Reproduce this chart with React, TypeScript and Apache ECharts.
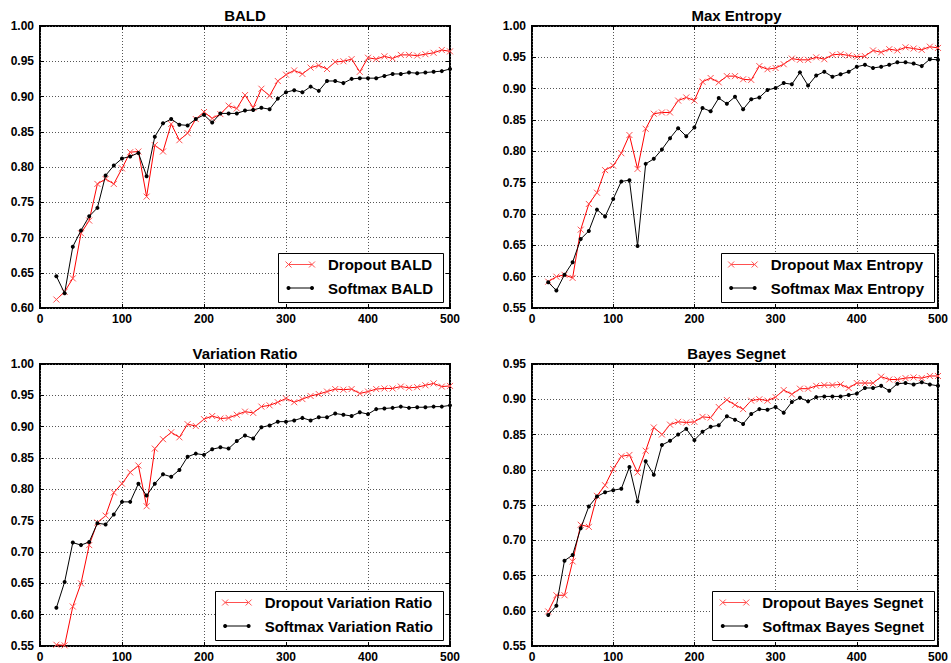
import React, { useEffect, useRef } from "react";
import * as echarts from "echarts";

const xs = [20, 30, 40, 50, 60, 70, 80, 90, 100, 110, 120, 130, 140, 150, 160, 170, 180, 190, 200, 210, 220, 230, 240, 250, 260, 270, 280, 290, 300, 310, 320, 330, 340, 350, 360, 370, 380, 390, 400, 410, 420, 430, 440, 450, 460, 470, 480, 490, 500];

const baldDropout = [0.612, 0.623, 0.642, 0.706, 0.724, 0.776, 0.783, 0.776, 0.798, 0.821, 0.822, 0.758, 0.831, 0.822, 0.861, 0.838, 0.848, 0.868, 0.878, 0.869, 0.875, 0.887, 0.883, 0.902, 0.884, 0.911, 0.901, 0.922, 0.931, 0.937, 0.932, 0.941, 0.944, 0.939, 0.949, 0.950, 0.953, 0.935, 0.955, 0.953, 0.957, 0.954, 0.959, 0.959, 0.958, 0.960, 0.962, 0.966, 0.964];
const baldSoftmax = [0.645, 0.621, 0.687, 0.710, 0.730, 0.742, 0.788, 0.802, 0.812, 0.815, 0.820, 0.787, 0.843, 0.862, 0.868, 0.860, 0.859, 0.868, 0.874, 0.863, 0.876, 0.876, 0.876, 0.880, 0.881, 0.884, 0.882, 0.897, 0.906, 0.909, 0.906, 0.914, 0.908, 0.922, 0.922, 0.919, 0.925, 0.926, 0.926, 0.926, 0.929, 0.932, 0.932, 0.934, 0.933, 0.934, 0.935, 0.936, 0.939];

const maxEntDropout = [0.592, 0.600, 0.603, 0.598, 0.675, 0.716, 0.734, 0.770, 0.777, 0.797, 0.826, 0.772, 0.836, 0.860, 0.862, 0.862, 0.881, 0.886, 0.881, 0.911, 0.917, 0.910, 0.920, 0.920, 0.915, 0.914, 0.936, 0.931, 0.933, 0.939, 0.948, 0.946, 0.946, 0.950, 0.947, 0.954, 0.955, 0.953, 0.951, 0.952, 0.961, 0.958, 0.963, 0.961, 0.966, 0.964, 0.962, 0.967, 0.965];
const maxEntSoftmax = [0.591, 0.578, 0.603, 0.623, 0.660, 0.673, 0.707, 0.696, 0.724, 0.752, 0.754, 0.649, 0.780, 0.788, 0.803, 0.821, 0.837, 0.824, 0.838, 0.869, 0.864, 0.885, 0.876, 0.887, 0.867, 0.883, 0.886, 0.898, 0.901, 0.909, 0.907, 0.926, 0.905, 0.921, 0.927, 0.919, 0.923, 0.927, 0.935, 0.938, 0.933, 0.935, 0.938, 0.942, 0.942, 0.940, 0.936, 0.947, 0.946];

const varRatioDropout = [0.552, 0.551, 0.613, 0.650, 0.711, 0.747, 0.758, 0.795, 0.809, 0.827, 0.838, 0.773, 0.865, 0.880, 0.891, 0.883, 0.904, 0.901, 0.912, 0.917, 0.913, 0.914, 0.919, 0.924, 0.922, 0.932, 0.934, 0.939, 0.945, 0.939, 0.944, 0.949, 0.952, 0.956, 0.960, 0.959, 0.960, 0.953, 0.956, 0.960, 0.961, 0.961, 0.964, 0.962, 0.963, 0.966, 0.969, 0.964, 0.965];
const varRatioSoftmax = [0.611, 0.652, 0.715, 0.711, 0.716, 0.746, 0.744, 0.760, 0.780, 0.780, 0.809, 0.790, 0.809, 0.824, 0.820, 0.831, 0.852, 0.857, 0.855, 0.864, 0.867, 0.865, 0.877, 0.886, 0.881, 0.899, 0.902, 0.908, 0.908, 0.910, 0.914, 0.910, 0.915, 0.915, 0.921, 0.919, 0.917, 0.923, 0.920, 0.928, 0.929, 0.930, 0.932, 0.930, 0.931, 0.931, 0.932, 0.932, 0.934];

const bayesDropout = [0.599, 0.622, 0.622, 0.670, 0.722, 0.719, 0.763, 0.778, 0.801, 0.819, 0.821, 0.796, 0.827, 0.860, 0.850, 0.864, 0.868, 0.867, 0.868, 0.875, 0.874, 0.889, 0.899, 0.892, 0.886, 0.898, 0.900, 0.898, 0.903, 0.913, 0.907, 0.915, 0.915, 0.919, 0.920, 0.920, 0.921, 0.916, 0.923, 0.923, 0.923, 0.932, 0.928, 0.928, 0.930, 0.931, 0.930, 0.933, 0.933];
const bayesSoftmax = [0.594, 0.607, 0.671, 0.679, 0.717, 0.748, 0.762, 0.768, 0.771, 0.773, 0.804, 0.755, 0.812, 0.793, 0.835, 0.841, 0.850, 0.858, 0.842, 0.854, 0.861, 0.863, 0.876, 0.871, 0.865, 0.879, 0.886, 0.885, 0.889, 0.881, 0.896, 0.902, 0.897, 0.903, 0.904, 0.904, 0.904, 0.906, 0.908, 0.916, 0.916, 0.919, 0.912, 0.922, 0.923, 0.921, 0.924, 0.921, 0.919];

const titles = ["BALD", "Max Entropy", "Variation Ratio", "Bayes Segnet"];
const yMins = [0.6, 0.55, 0.55, 0.55];
const yMaxs = [1.0, 1.0, 1.0, 0.95];
const dropoutSeries = [baldDropout, maxEntDropout, varRatioDropout, bayesDropout];
const softmaxSeries = [baldSoftmax, maxEntSoftmax, varRatioSoftmax, bayesSoftmax];

const FONT = '"Liberation Sans", Arial, Helvetica, sans-serif';
const RED = "#ff0000";
const RED_MARK = "#ff5050";

const grids = [
  { left: 40, top: 26, width: 410, height: 282 },
  { left: 532, top: 26, width: 409, height: 282 },
  { left: 40, top: 364, width: 410, height: 282 },
  { left: 532, top: 364, width: 409, height: 282 },
];

function measure(text: string, font: string): number {
  const c = document.createElement("canvas");
  const ctx = c.getContext("2d");
  if (!ctx) return text.length * 8;
  ctx.font = font;
  return ctx.measureText(text).width;
}

function buildOption() {
  const xAxis: any[] = [];
  const yAxis: any[] = [];
  const series: any[] = [];
  const graphic: any[] = [];
  const tick = { show: true, inside: true, length: 4, lineStyle: { color: "#000", width: 1 } };
  const label = { color: "#000", fontWeight: "bold", fontSize: 12, fontFamily: FONT };
  const split = { show: true, lineStyle: { color: "#555", type: [1, 2], width: 1 } };
  const legendFont = `bold 15px ${FONT}`;

  grids.forEach((g, i) => {
    xAxis.push({
      type: "value", gridIndex: i, min: 0, max: 500, interval: 100, position: "bottom",
      axisLine: { show: false, onZero: false }, axisTick: tick,
      axisLabel: { ...label, margin: 5 }, splitLine: split,
    });
    xAxis.push({
      type: "value", gridIndex: i, min: 0, max: 500, interval: 100, position: "top",
      axisLine: { show: false, onZero: false }, axisTick: tick,
      axisLabel: { show: false }, splitLine: { show: false },
    });
    yAxis.push({
      type: "value", gridIndex: i, min: yMins[i], max: yMaxs[i], interval: 0.05, position: "left",
      axisLine: { show: false, onZero: false }, axisTick: tick,
      axisLabel: { ...label, margin: 6, formatter: (v: number) => v.toFixed(2) }, splitLine: split,
    });
    yAxis.push({
      type: "value", gridIndex: i, min: yMins[i], max: yMaxs[i], interval: 0.05, position: "right",
      axisLine: { show: false, onZero: false }, axisTick: tick,
      axisLabel: { show: false }, splitLine: { show: false },
    });

    const dName = `Dropout ${titles[i]}`;
    const sName = `Softmax ${titles[i]}`;
    series.push({
      type: "line", name: dName, xAxisIndex: i * 2, yAxisIndex: i * 2,
      data: xs.map((x, k) => [x, dropoutSeries[i][k]]),
      symbol: "path://M0,0L10,10M10,0L0,10", symbolSize: 6,
      itemStyle: { color: RED_MARK, borderColor: RED_MARK, borderWidth: 1 },
      lineStyle: { color: RED, width: 1 },
      silent: true, emphasis: { disabled: true }, z: 3,
    });
    series.push({
      type: "line", name: sName, xAxisIndex: i * 2, yAxisIndex: i * 2,
      data: xs.map((x, k) => [x, softmaxSeries[i][k]]),
      symbol: "circle", symbolSize: 4,
      itemStyle: { color: "#000" },
      lineStyle: { color: "#000", width: 1 },
      silent: true, emphasis: { disabled: true }, z: 4,
    });

    // title
    graphic.push({
      type: "text", x: g.left + g.width / 2, y: g.top - 10.3, z: 100,
      style: { text: titles[i], font: `bold 15px ${FONT}`, fill: "#000", align: "center", verticalAlign: "middle" },
    });

    // legend
    const plotRight = g.left + g.width;
    const plotBottom = g.top + g.height;
    const boxRight = plotRight - 7;
    const boxBottom = plotBottom - 6;
    const boxH = 49;
    const boxTop = boxBottom - boxH;
    const textW = Math.max(measure(dName, legendFont), measure(sName, legendFont));
    const textX = boxRight - 10 - textW;
    const boxLeft = textX - 50;
    const r1 = boxTop + 11.5;
    const r2 = boxTop + 35;
    const lx1 = boxLeft + 10.5;
    const lx2 = boxLeft + 34;
    graphic.push({
      type: "rect", z: 100,
      shape: { x: Math.round(boxLeft) + 0.5, y: Math.round(boxTop) + 0.5, width: Math.round(boxRight - boxLeft), height: boxH },
      style: { fill: "#fff", stroke: "#000", lineWidth: 1 },
    });
    graphic.push({ type: "line", z: 101, shape: { x1: lx1, y1: r1, x2: lx2, y2: r1 }, style: { stroke: RED_MARK, lineWidth: 1 } });
    [lx1, lx2].forEach((cx) => {
      graphic.push({ type: "line", z: 101, shape: { x1: cx - 3, y1: r1 - 3, x2: cx + 3, y2: r1 + 3 }, style: { stroke: RED_MARK, lineWidth: 1 } });
      graphic.push({ type: "line", z: 101, shape: { x1: cx - 3, y1: r1 + 3, x2: cx + 3, y2: r1 - 3 }, style: { stroke: RED_MARK, lineWidth: 1 } });
    });
    graphic.push({ type: "line", z: 101, shape: { x1: lx1, y1: r2, x2: lx2, y2: r2 }, style: { stroke: "#000", lineWidth: 1 } });
    [lx1, lx2].forEach((cx) => {
      graphic.push({ type: "circle", z: 101, shape: { cx, cy: r2, r: 2 }, style: { fill: "#000" } });
    });
    graphic.push({
      type: "text", x: textX, y: r1, z: 101,
      style: { text: dName, font: legendFont, fill: "#000", align: "left", verticalAlign: "middle" },
    });
    graphic.push({
      type: "text", x: textX, y: r2, z: 101,
      style: { text: sName, font: legendFont, fill: "#000", align: "left", verticalAlign: "middle" },
    });
  });

  return {
    animation: false,
    backgroundColor: "#fff",
    grid: grids.map((g) => ({ ...g, show: true, borderColor: "#000", borderWidth: 2, backgroundColor: "transparent" })),
    xAxis,
    yAxis,
    series,
    graphic,
  };
}

export default function App() {
  const ref = useRef<HTMLDivElement>(null);
  useEffect(() => {
    if (!ref.current) return;
    const chart = echarts.init(ref.current, null, { renderer: "svg" });
    chart.setOption(buildOption() as any);
    return () => chart.dispose();
  }, []);
  return (
    <div
      ref={ref}
      style={{ position: "absolute", left: 0, top: 0, width: 951, height: 663, background: "#fff" }}
    />
  );
}
